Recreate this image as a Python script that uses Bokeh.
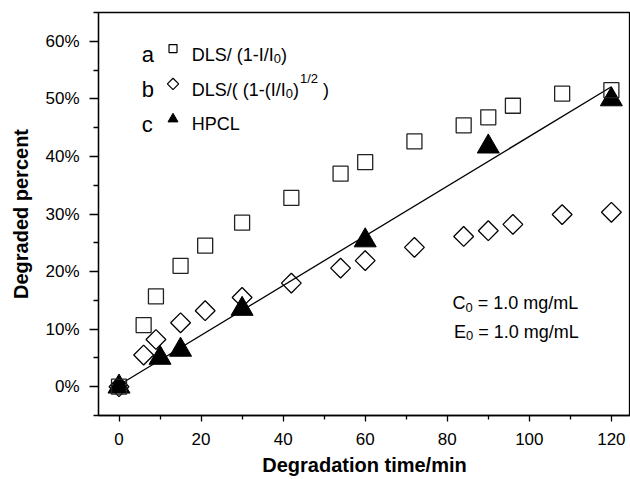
from bokeh.plotting import figure
from bokeh.models import Label, FixedTicker, PrintfTickFormatter, Range1d
from bokeh.embed import file_html
from bokeh.resources import INLINE

# ---------------- data ----------------
t_dls1 = [0, 6, 9, 15, 21, 30, 42, 54, 60, 72, 84, 90, 96, 108, 120]
v_dls1 = [0, 10.7, 15.7, 21.0, 24.5, 28.5, 32.8, 37.0, 39.0, 42.6, 45.4, 46.8, 48.8, 50.9, 51.5]

t_dls2 = [0, 6, 9, 15, 21, 30, 42, 54, 60, 72, 84, 90, 96, 108, 120]
v_dls2 = [0, 5.5, 8.2, 11.1, 13.2, 15.5, 18.0, 20.6, 21.9, 24.2, 26.1, 27.1, 28.2, 29.9, 30.3]

t_hplc = [0, 10, 15, 30, 60, 90, 120]
v_hplc = [0, 5.0, 6.4, 13.5, 25.4, 41.7, 49.9]

t_fit = [0, 120]
v_fit = [0.3, 52.1]

x_ticks = [0, 20, 40, 60, 80, 100, 120]
x_minor = [10, 30, 50, 70, 90, 110]
y_ticks = [0, 10, 20, 30, 40, 50, 60]
y_minor = [-5, 5, 15, 25, 35, 45, 55, 65]

FONT = "Liberation Sans"

# Arial / Liberation Sans advance widths (per 1000 em)
AW = {"D": 722, "L": 556, "S": 667, "/": 278, " ": 278, "(": 333, ")": 333,
      "1": 556, "-": 333, "I": 278, "0": 556, "2": 556, "C": 722, "E": 667,
      "=": 584, ".": 278, "m": 833, "g": 556}


def tw(s, size):
    return sum(AW.get(c, 556) for c in s) * size / 1000.0


p = figure(width=630, height=479, output_backend="svg", toolbar_location=None,
           x_range=Range1d(-5, 124.66), y_range=Range1d(-5, 65),
           min_border_left=98, min_border_right=0, min_border_top=12, min_border_bottom=64)
p.background_fill_color = "white"
p.border_fill_color = "white"
p.outline_line_color = "black"
p.outline_line_width = 1.3
p.xgrid.visible = False
p.ygrid.visible = False

for ax in (p.xaxis[0], p.yaxis[0]):
    ax.axis_line_width = 1.3
    ax.major_tick_line_width = 1.3
    ax.minor_tick_line_width = 1.3
    ax.major_tick_in = 0
    ax.minor_tick_in = 0
    ax.major_label_text_font = FONT
    ax.major_label_text_font_size = "17px"
    ax.major_label_text_color = "black"
    ax.axis_label_text_font = FONT
    ax.axis_label_text_font_style = "bold"
    ax.axis_label_text_font_size = "20px"
    ax.axis_label_text_color = "black"

p.xaxis.ticker = FixedTicker(ticks=x_ticks, minor_ticks=x_minor)
p.yaxis.ticker = FixedTicker(ticks=y_ticks, minor_ticks=y_minor)
p.yaxis.formatter = PrintfTickFormatter(format="%d%%")
p.xaxis.major_tick_out = 6
p.xaxis.minor_tick_out = 4
p.yaxis.major_tick_out = 9
p.yaxis.minor_tick_out = 5
p.xaxis.major_label_standoff = 11
p.yaxis.major_label_standoff = 10
p.xaxis.axis_label = "Degradation time/min"
p.yaxis.axis_label = "Degraded percent"
p.xaxis.axis_label_standoff = 6
p.yaxis.axis_label_standoff = 10

# ---------------- marks ----------------
p.line(t_fit, v_fit, line_color="black", line_width=1.3)
p.scatter(t_dls2, v_dls2, marker="square", angle=0.785398, size=14,
          fill_color=None, line_color="black", line_width=1.3)
p.scatter(t_hplc, v_hplc, marker="triangle", size=22,
          fill_color="black", line_color="black")
p.scatter(t_dls1, v_dls1, marker="square", size=15,
          fill_color=None, line_color="#222222", line_width=1.3)

# ---------------- legend (manual) ----------------
p.scatter([13.16], [58.73], marker="square", size=8, fill_color=None,
          line_color="black", line_width=1.2)
p.scatter([13.16], [52.59], marker="square", angle=0.785398, size=8,
          fill_color=None, line_color="black", line_width=1.2)
p.scatter([13.16], [46.5], marker="triangle", size=10,
          fill_color="black", line_color="black")


def lab(x, y, text, size, xo=0, yo=0):
    p.add_layout(Label(x=x, y=y, text=text, x_offset=xo, y_offset=yo,
                       text_font=FONT, text_font_size=f"{size}px",
                       text_color="black", text_baseline="alphabetic",
                       text_align="left"))


MS, SS = 18, 13
SUB = -4
# letters
lab(5.53, 57.69, "a", 22)
lab(5.53, 51.6, "b", 22)
lab(5.53, 45.63, "c", 22)

# row a : DLS/ (1-I/I0)
x0 = 17.72
s1 = "DLS/ (1-I/I"
lab(x0, 57.69, s1, MS)
w = tw(s1, MS)
lab(x0, 57.69, "0", SS, xo=w, yo=SUB)
w += tw("0", SS)
lab(x0, 57.69, ")", MS, xo=w)

# row b : DLS/( (1-(I/I0)^1/2 )
s2 = "DLS/( (1-(I/I"
lab(x0, 51.6, s2, MS)
w = tw(s2, MS)
lab(x0, 51.6, "0", SS, xo=w, yo=SUB)
w += tw("0", SS)
lab(x0, 51.6, ")", MS, xo=w)
w += tw(")", MS)
lab(x0, 51.6, "1/2", SS, xo=w + 1, yo=11)
w += tw("1/2", SS) + 1 + tw(" ", MS)
lab(x0, 51.6, ")", MS, xo=w)

# row c
lab(x0, 45.63, "HPCL", MS)

# concentration notes
for xx, yy, letter in ((81.26, 14.5, "C"), (81.65, 9.57, "E")):
    lab(xx, yy, letter, MS)
    w = tw(letter, MS)
    lab(xx, yy, "0", SS, xo=w, yo=SUB)
    w += tw("0", SS) + tw(" ", MS)
    lab(xx, yy, "= 1.0 mg/mL", MS, xo=w)

open("out.html", "w").write(file_html(p, INLINE))
